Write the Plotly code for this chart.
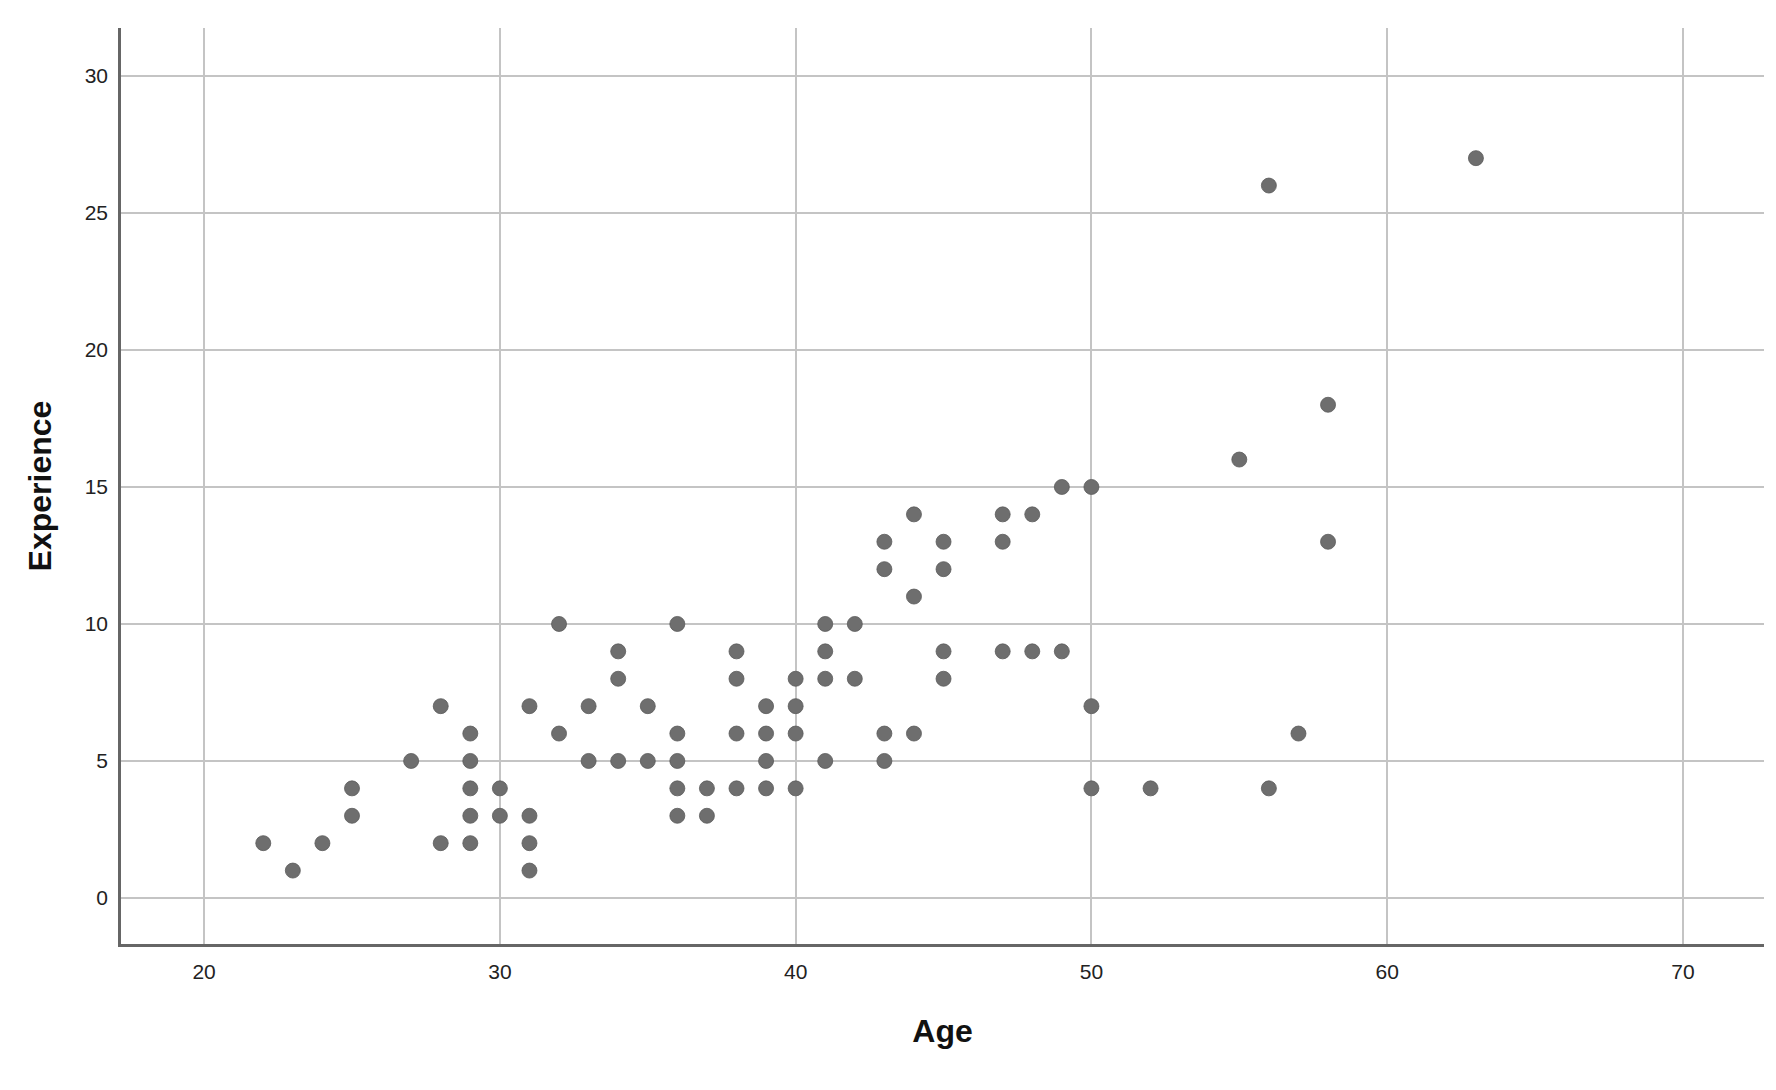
import plotly.graph_objects as go

# Age / Experience pairs
age = [22, 23, 24, 25, 25, 27, 28, 28,
       29, 29, 29, 29, 29, 30, 30, 31, 31, 31, 31,
       32, 32, 33, 33, 34, 34, 34, 35, 35,
       36, 36, 36, 36, 36, 37, 37, 38, 38, 38, 38,
       39, 39, 39, 39, 40, 40, 40, 40,
       41, 41, 41, 41, 42, 42, 43, 43, 43, 43,
       44, 44, 44, 45, 45, 45, 45,
       47, 47, 47, 48, 48, 49, 49, 50, 50, 50,
       52, 55, 56, 56, 57, 58, 58, 63]
experience = [2, 1, 2, 4, 3, 5, 7, 2,
              6, 5, 4, 3, 2, 4, 3, 7, 3, 2, 1,
              10, 6, 7, 5, 9, 8, 5, 7, 5,
              10, 6, 5, 4, 3, 4, 3, 9, 8, 6, 4,
              7, 6, 5, 4, 8, 7, 6, 4,
              10, 9, 8, 5, 10, 8, 13, 12, 6, 5,
              14, 11, 6, 13, 12, 9, 8,
              14, 13, 9, 14, 9, 15, 9, 15, 7, 4,
              4, 16, 26, 4, 6, 18, 13, 27]

x_ticks = [20, 30, 40, 50, 60, 70]
y_ticks = [0, 5, 10, 15, 20, 25, 30]

font = "Liberation Sans, Arial, sans-serif"

fig = go.Figure()
fig.add_trace(go.Scatter(
    x=age, y=experience,
    mode="markers",
    marker=dict(size=15, color="#6e6e6e",
                line=dict(width=0.8, color="#5a5a5a")),
    showlegend=False,
))

# page body has an 8px margin, so the figure is shrunk/shifted to match
fig.update_layout(
    width=1768, height=1082,
    margin=dict(l=113, r=12, t=20, b=146),
    plot_bgcolor="white", paper_bgcolor="white",
    font=dict(family=font, color="#222222"),
)

fig.update_xaxes(
    range=[17.19, 72.74],
    tickvals=x_ticks,
    tickfont=dict(size=21, color="#222222"),
    ticklabelstandoff=7,
    showgrid=True, gridcolor="#c4c4c4", gridwidth=1.6,
    showline=True, linecolor="#666666", linewidth=2.5,
    zeroline=False,
    title=dict(text="<b>Age</b>", font=dict(size=32, color="#111111"),
               standoff=38),
)
fig.update_yaxes(
    range=[-1.68, 31.75],
    tickvals=y_ticks,
    tickfont=dict(size=21, color="#222222"),
    ticklabelstandoff=6,
    showgrid=True, gridcolor="#c4c4c4", gridwidth=1.6,
    showline=True, linecolor="#666666", linewidth=2.5,
    zeroline=False,
    title=dict(text="<b>Experience</b>", font=dict(size=32, color="#111111"),
               standoff=24),
)

fig.write_html("out.html")
